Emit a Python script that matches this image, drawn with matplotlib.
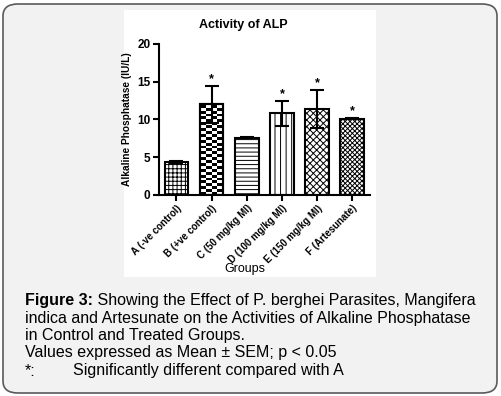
import matplotlib.pyplot as plt
from matplotlib.patches import FancyBboxPatch, Rectangle

# dados do grafico
grupos = ["A (-ve control)", "B (+ve control)", "C (50 mg/kg MI)",
          "D (100 mg/kg MI)", "E (150 mg/kg MI)", "F (Artesunate)"]
medias = [4.4, 12.0, 7.6, 10.8, 11.4, 10.1]
erros = [0.1, 2.4, 0.05, 1.6, 2.5, 0.1]
signif = ["", "*", "", "*", "*", "*"]
hachuras = ["++++", "", "----", "|||", "xxxxx", "xxxxxxx"]

legenda = [
    ("Figure 3:", " Showing the Effect of P. berghei Parasites, Mangifera"),
    ("", "indica and Artesunate on the Activities of Alkaline Phosphatase"),
    ("", "in Control and Treated Groups."),
    ("", "Values expressed as Mean \u00b1 SEM; p < 0.05"),
]

plt.rcParams["font.family"] = ["Liberation Sans", "DejaVu Sans"]
plt.rcParams["hatch.linewidth"] = 0.7

fig = plt.figure(figsize=(5.01, 3.96), dpi=100, facecolor="white")

# fundo cinza com borda arredondada
fundo = FancyBboxPatch((3 / 501, 3 / 396), 494 / 501, 389 / 396,
                       boxstyle="round,pad=0,rounding_size=0.03",
                       transform=fig.transFigure, facecolor="#f2f2f2",
                       edgecolor="#5a5a5a", linewidth=1.2, zorder=-2)
fig.patches.append(fundo)
# painel branco do grafico
painel = Rectangle((124 / 501, 1 - 277 / 396), 252 / 501, 267 / 396,
                   transform=fig.transFigure, facecolor="white",
                   edgecolor="none", zorder=-1)
fig.patches.append(painel)

ax = fig.add_axes([0.317, 0.5076, 0.4212, 0.3813])
ax.set_facecolor("white")
x = range(len(grupos))

barras = ax.bar(x, medias, width=0.67, color="white", edgecolor="black",
                linewidth=1.5, zorder=2)
for barra, h in zip(barras, hachuras):
    barra.set_hatch(h)
# barra B com padrao xadrez
xb = barras[1].get_x()
wb = barras[1].get_width()
n_col, tam = 4, wb / 4
linha = 0
y0 = 0.0
while y0 < medias[1] - 1e-6:
    alt = min(tam * 2.3, medias[1] - y0)
    for c in range(n_col):
        if (c + linha) % 2 == 0:
            ax.add_patch(Rectangle((xb + c * tam, y0), tam, alt,
                                   facecolor="black", edgecolor="none", zorder=2))
    y0 += tam * 2.3
    linha += 1
ax.bar([1], [medias[1]], width=0.67, color="none", edgecolor="black",
       linewidth=1.5, zorder=3)

ax.errorbar(x, medias, yerr=erros, fmt="none", ecolor="black",
            elinewidth=1.5, capsize=5, capthick=1.5, zorder=4)

for i in x:
    if signif[i]:
        ax.text(i, medias[i] + erros[i] + 0.1, signif[i], ha="center",
                va="bottom", fontsize=9, fontweight="bold")

ax.set_xlim(-0.5, 5.5)
ax.set_ylim(0, 20)
ax.set_yticks([0, 5, 10, 15, 20])
ax.set_xticks(list(x))
ax.set_xticklabels(grupos, rotation=45, ha="right", rotation_mode="anchor",
                   fontsize=7, fontweight="bold")
for t in ax.get_yticklabels():
    t.set_fontweight("bold")
    t.set_fontsize(8.5)
ax.tick_params(width=1.5, length=4, pad=2)
for lado in ["top", "right"]:
    ax.spines[lado].set_visible(False)
for lado in ["left", "bottom"]:
    ax.spines[lado].set_linewidth(1.5)

ax.set_ylabel("Alkaline Phosphatase (IU/L)", fontsize=7.3, fontweight="bold",
              labelpad=4)
fig.text(245 / 501, 1 - 269 / 396, "Groups", ha="center", va="center",
         fontsize=9)
fig.text(243 / 501, 1 - 25 / 396, "Activity of ALP", ha="center",
         va="center", fontsize=9, fontweight="bold")

# legenda da figura
ys = [300, 318, 335.5, 353]
for (negrito, resto), yy in zip(legenda, ys):
    t = fig.text(25 / 501, 1 - yy / 396, negrito, ha="left", va="center",
                 fontsize=11.5, fontweight="bold")
    if negrito:
        fig.canvas.draw()
        bb = t.get_window_extent()
        x1 = bb.x1 / fig.bbox.width
    else:
        x1 = 25 / 501
    fig.text(x1, 1 - yy / 396, resto, ha="left", va="center", fontsize=11.5)
fig.text(25 / 501, 1 - 371 / 396, "*:", ha="left", va="center", fontsize=11.5)
fig.text(73 / 501, 1 - 371 / 396, "Significantly different compared with A",
         ha="left", va="center", fontsize=11.5)

plt.savefig("out.png", dpi=100)
